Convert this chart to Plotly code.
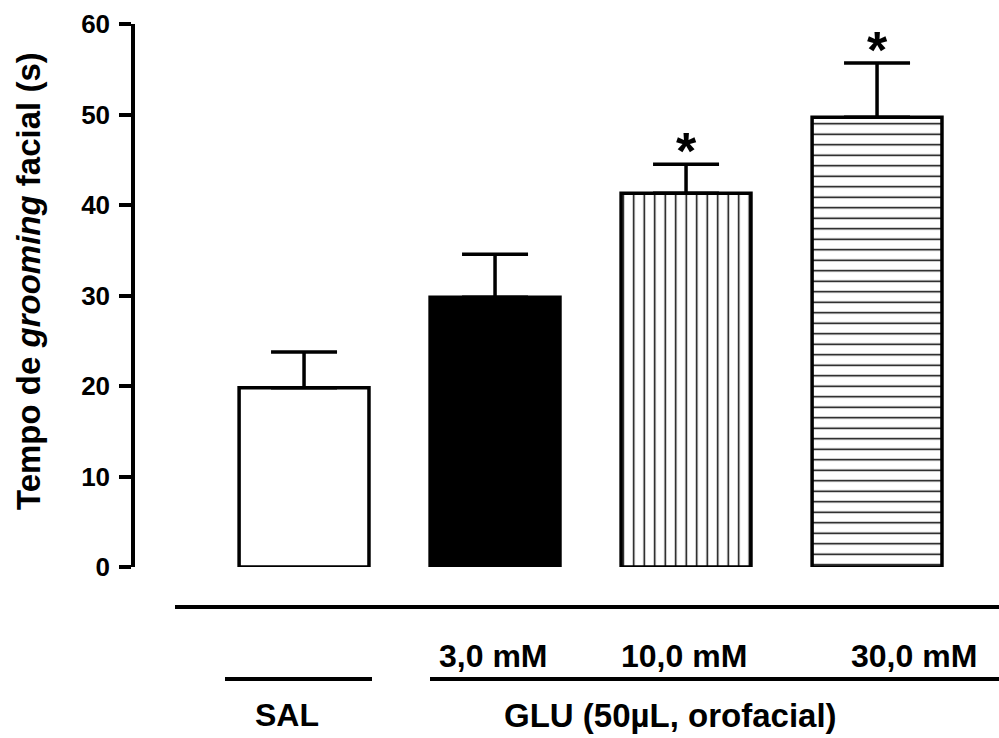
import plotly.graph_objects as go

groups = ["SAL", "3,0 mM", "10,0 mM", "30,0 mM"]
means = [19.8, 29.8, 41.3, 49.7]
sems = [3.95, 4.75, 3.2, 6.0]
significant = [False, False, True, True]
fills = ["white", "black", "white", "white"]
patterns = ["", "", "|", "-"]

y_ticks = [0, 10, 20, 30, 40, 50, 60]
y_title = "<b>Tempo de <i>grooming</i> facial (s)</b>"
dose_labels = ["3,0 mM", "10,0 mM", "30,0 mM"]
group_labels = ["SAL", "GLU (50µL, orofacial)"]

FONT = "Arial, Liberation Sans, sans-serif"
xs = list(range(len(groups)))

fig = go.Figure()
for i in xs:
    marker = dict(color=fills[i], line=dict(color="black", width=3.5))
    if patterns[i]:
        marker["pattern"] = dict(shape=patterns[i], fgcolor="black", bgcolor=fills[i], size=10.5,
                                 solidity=0.14, fillmode="overlay", fgopacity=1)
    fig.add_trace(go.Bar(
        x=[xs[i]], y=[means[i]], width=0.68, marker=marker,
        error_y=dict(type="data", symmetric=False, array=[sems[i]], arrayminus=[0],
                     color="black", thickness=3.5, width=33),
        showlegend=False, hoverinfo="skip",
    ))

# significance stars
for i, (m, s, sig) in enumerate(zip(means, sems, significant)):
    if sig:
        fig.add_annotation(x=xs[i], y=m + s, xref="x", yref="y", text="<b>*</b>",
                           showarrow=False, yanchor="bottom", yshift=-18,
                           font=dict(size=52, family=FONT, color="black"))

# y title
fig.add_annotation(x=-0.1238, y=(567 - 281) / 543, xref="paper", yref="paper", text=y_title,
                   textangle=-90, showarrow=False, xanchor="center", yanchor="middle",
                   font=dict(size=33, family=FONT, color="black"))

# dose labels
dose_x = [493, 684, 914]
for lab, px in zip(dose_labels, dose_x):
    fig.add_annotation(x=(px - 135) / 864, y=(567 - 656) / 543, xref="paper", yref="paper",
                       text="<b>" + lab + "</b>", showarrow=False, xanchor="center", yanchor="middle",
                       font=dict(size=32, family=FONT, color="black"))
grp_x = [287, 670]
grp_size = [32, 33]
for lab, px, sz in zip(group_labels, grp_x, grp_size):
    fig.add_annotation(x=(px - 135) / 864, y=(567 - 715) / 543, xref="paper", yref="paper",
                       text="<b>" + lab + "</b>", showarrow=False, xanchor="center", yanchor="middle",
                       font=dict(size=sz, family=FONT, color="black"))

def hline(x0px, x1px, ypx):
    fig.add_shape(type="line", xref="paper", yref="paper",
                  x0=(x0px - 135) / 864, x1=(x1px - 135) / 864,
                  y0=(567 - ypx) / 543, y1=(567 - ypx) / 543,
                  line=dict(color="black", width=4))

hline(175, 999, 607)
hline(225, 372, 679)
hline(430, 999, 679)

fig.update_layout(
    width=999, height=738,
    margin=dict(l=135, r=0, t=24, b=171),
    barmode="overlay",
    plot_bgcolor="white", paper_bgcolor="white",
    font=dict(family=FONT, color="black"),
    xaxis=dict(range=[-0.885, -0.885 + 864 / 191], showline=False, showticklabels=False,
               ticks="", showgrid=False, zeroline=False),
    yaxis=dict(range=[0, 60], tickvals=y_ticks, ticktext=["<b>%d</b>" % t for t in y_ticks],
               showline=True, linecolor="black", linewidth=3.5, ticks="outside",
               ticklen=12, tickwidth=3.5, tickcolor="black", showgrid=False, zeroline=False,
               tickfont=dict(size=26, family=FONT, color="black"), ticklabelstandoff=4),
)

fig.write_html("out.html", config={"displayModeBar": False},
               post_script="document.body.style.margin='0px';")
